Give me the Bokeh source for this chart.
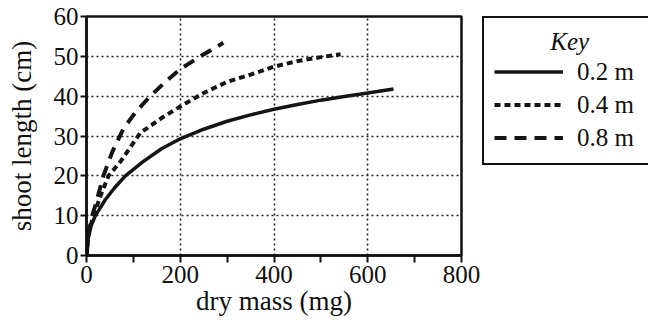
from bokeh.plotting import figure
from bokeh.layouts import row
from bokeh.models import Range1d, FixedTicker, Legend, LegendItem
from bokeh.embed import file_html
from bokeh.resources import INLINE

# Data
mass_02 = [0, 3, 10, 19, 40, 60, 83, 120, 160, 200, 250, 300, 350, 400, 450, 500, 550, 600, 655]
len_02 = [0, 4, 7.5, 10, 14, 17, 20, 23.5, 26.8, 29.3, 31.7, 33.7, 35.3, 36.7, 37.9, 39.0, 39.9, 40.8, 41.8]

mass_04 = [0, 5, 15, 30, 47, 72, 115, 160, 200, 250, 300, 350, 400, 450, 500, 542]
len_04 = [0, 6, 10, 15, 20, 23.5, 30.8, 34.5, 37.4, 40.8, 43.6, 45.4, 47.4, 48.8, 49.8, 50.5]

mass_08 = [0, 5, 12, 20, 36, 55, 79, 105, 136, 170, 200, 243, 292]
len_08 = [0, 6, 10, 13, 20, 26, 31.9, 36, 40, 43.8, 46.8, 50, 53.4]

x_ticks = [0, 200, 400, 600, 800]
x_minor = [100, 300, 500, 700]
y_ticks = [0, 10, 20, 30, 40, 50, 60]
labels = ["0.2 m", "0.4 m", "0.8 m"]
key_title = "Key"

FONT = "Liberation Serif"
INK = "#111111"
STYLES = [dict(line_width=3.5), dict(line_width=4, line_dash="6 4"), dict(line_width=4, line_dash="12 8")]
series = [(mass_02, len_02), (mass_04, len_04), (mass_08, len_08)]

# ---- main chart ----
p = figure(width=482, height=322, output_backend="svg", toolbar_location=None,
           x_range=Range1d(0, 800), y_range=Range1d(0, 60),
           min_border_left=86, min_border_right=21, min_border_top=16, min_border_bottom=67)

p.background_fill_color = "white"
p.border_fill_color = "white"
p.outline_line_color = INK
p.outline_line_width = 2.5

p.xaxis.ticker = FixedTicker(ticks=x_ticks, minor_ticks=x_minor)
p.yaxis.ticker = FixedTicker(ticks=y_ticks)

for ax in (p.xaxis[0], p.yaxis[0]):
    ax.axis_line_width = 2.5
    ax.axis_line_color = INK
    ax.major_tick_line_color = INK
    ax.major_tick_line_width = 2
    ax.minor_tick_line_color = INK
    ax.minor_tick_line_width = 2
    ax.major_tick_in = 0
    ax.minor_tick_in = 0
    ax.major_label_text_font = FONT
    ax.major_label_text_font_size = "25px"
    ax.major_label_text_color = INK
    ax.axis_label_text_font = FONT
    ax.axis_label_text_font_size = "27px"
    ax.axis_label_text_font_style = "normal"
    ax.axis_label_text_color = INK

p.xaxis.major_tick_out = 7
p.xaxis.minor_tick_out = 7
p.xaxis.major_label_standoff = 3
p.xaxis.axis_label = "dry mass (mg)"
p.xaxis.axis_label_standoff = 0

p.yaxis.major_tick_out = 6
p.yaxis.minor_tick_line_color = None
p.yaxis.major_label_standoff = 2
p.yaxis.axis_label = "shoot length (cm)"
p.yaxis.axis_label_standoff = 14

p.xgrid.ticker = FixedTicker(ticks=x_ticks[1:-1])
p.ygrid.ticker = FixedTicker(ticks=y_ticks[1:-1])
for g in (p.xgrid[0], p.ygrid[0]):
    g.grid_line_color = "#222222"
    g.grid_line_width = 1.6
    g.grid_line_dash = "2 3"

for (xs, ys), st in zip(series, STYLES):
    p.line(xs, ys, line_color="#151515", **st)

# ---- key panel (separate small figure to the right) ----
# its ranges lie outside the data, so its lines only serve the legend swatches
k = figure(width=166, height=322, output_backend="svg", toolbar_location=None,
           x_range=Range1d(-2, -1), y_range=Range1d(-2, -1),
           min_border=0, outline_line_color=None)
k.axis.visible = False
k.grid.visible = False
k.background_fill_color = "white"
k.border_fill_color = "white"

key_renderers = [k.line(xs, ys, line_color="#151515", **st) for (xs, ys), st in zip(series, STYLES)]

lg = Legend(items=[LegendItem(label=lab, renderers=[r]) for lab, r in zip(labels, key_renderers)],
            location="top_left")
lg.title = "\u00a0" * 9 + key_title
lg.title_text_font = FONT
lg.title_text_font_size = "25px"
lg.title_text_font_style = "italic"
lg.title_text_color = INK
lg.title_standoff = 0
lg.label_text_font = FONT
lg.label_text_font_size = "25px"
lg.label_text_color = INK
lg.glyph_width = 69
lg.glyph_height = 31
lg.label_height = 31
lg.label_width = 70
lg.label_standoff = 14
lg.padding = 10
lg.spacing = 2
lg.margin = 0
lg.border_line_color = INK
lg.border_line_alpha = 1
lg.border_line_width = 2.5
lg.background_fill_color = "white"
lg.background_fill_alpha = 1
k.add_layout(lg)

layout = row(p, k)
open("out.html", "w").write(file_html(layout, INLINE))
